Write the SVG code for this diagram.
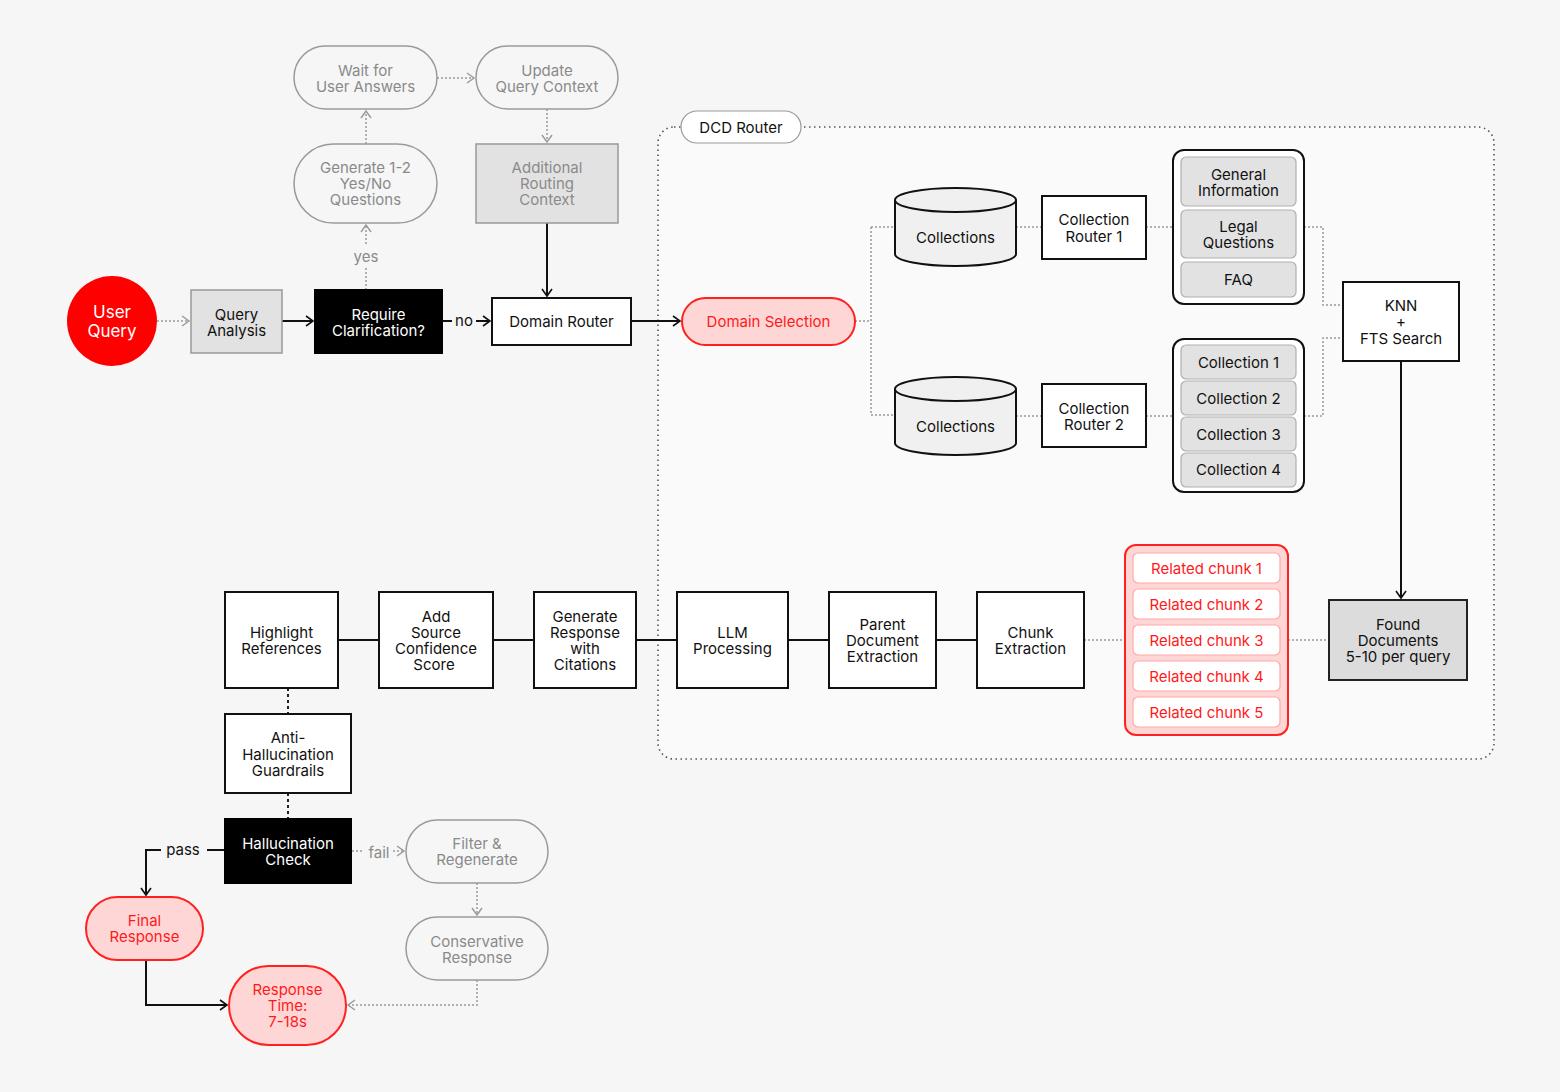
<svg xmlns="http://www.w3.org/2000/svg" width="1560" height="1092" viewBox="0 0 1560 1092">
<style>
text{font-family:Inter,"Noto Sans","Liberation Sans",sans-serif;font-size:15px;fill:#111;text-anchor:middle;dominant-baseline:central}
.g text,text.g{fill:#8a8a8a}
.w{fill:#fff}
.r{fill:#ff1a1a}
.box{fill:#fff;stroke:#111;stroke-width:2}
.blk{fill:#000;stroke:#000;stroke-width:2}
.gbox{fill:#e2e2e2;stroke:#999;stroke-width:1.5}
.gpill{fill:none;stroke:#9a9a9a;stroke-width:1.5}
.rpill{fill:#ffd6d6;stroke:#ff2020;stroke-width:2}
.item{fill:#e2e2e2;stroke:#b0b0b0;stroke-width:1.2}
.ritem{fill:#fff;stroke:#ffa8a8;stroke-width:1.2}
.solid{fill:none;stroke:#111;stroke-width:2}
.dotg{fill:none;stroke:#999;stroke-width:1.5;stroke-dasharray:2 2}
.dashk{fill:none;stroke:#222;stroke-width:2;stroke-dasharray:3 3}
</style>
<defs>
<marker id="ak" markerUnits="userSpaceOnUse" markerWidth="10" markerHeight="12" refX="8" refY="6" orient="auto"><path d="M1,1 L8,6 L1,11" fill="none" stroke="#111" stroke-width="1.6"/></marker>
<marker id="ag" markerUnits="userSpaceOnUse" markerWidth="10" markerHeight="12" refX="8" refY="6" orient="auto"><path d="M1,1 L8,6 L1,11" fill="none" stroke="#999" stroke-width="1.4"/></marker>
</defs>
<rect width="1560" height="1092" fill="#f6f6f6"/>

<g id="dcd-router">
<rect x="658" y="127" width="836" height="632" rx="16" fill="#fafafa" stroke="#555" stroke-width="1.6" stroke-dasharray="1.5 3.5"/>
<rect x="681" y="111" width="120" height="32" rx="16" fill="#fff" stroke="#999" stroke-width="1.2"/>
<text x="741" y="127">DCD Router</text>
</g>

<g id="connectors">
<path class="dotg" d="M157,321 H189" marker-end="url(#ag)"/>
<path class="solid" d="M282,321 H313" marker-end="url(#ak)"/>
<path class="solid" d="M442,321 H452"/>
<text x="464" y="320">no</text>
<path class="solid" d="M476,321 H490" marker-end="url(#ak)"/>
<path class="dotg" d="M366,290 V268"/>
<text class="g" x="366" y="256">yes</text>
<path class="dotg" d="M366,244 V225" marker-end="url(#ag)"/>
<path class="dotg" d="M366,144 V111" marker-end="url(#ag)"/>
<path class="dotg" d="M437,78 H474" marker-end="url(#ag)"/>
<path class="dotg" d="M547,109 V142" marker-end="url(#ag)"/>
<path class="solid" d="M547,223 V296" marker-end="url(#ak)"/>
<path class="solid" d="M631,321 H680" marker-end="url(#ak)"/>
<path class="dotg" d="M855,321 H871 M871,227 V415 M871,227 H895 M871,415 H895"/>
<path class="dotg" d="M1016,227 H1042 M1146,227 H1173 M1016,416 H1042 M1146,416 H1173"/>
<path class="dotg" d="M1304,227 H1323 V305 H1343 M1304,416 H1323 V338 H1343"/>
<path class="solid" d="M1401,361 V598" marker-end="url(#ak)"/>
<path class="dotg" d="M1288,640 H1329 M1084,640 H1125"/>
<path class="solid" d="M338,640 H379 M493,640 H534 M636,640 H677 M788,640 H829 M936,640 H977"/>
<path class="dashk" d="M288,688 V714 M288,793 V819"/>
<path class="solid" d="M225,850 H207"/>
<text x="183" y="849">pass</text>
<path class="solid" d="M161,850 H146 V895" marker-end="url(#ak)"/>
<path class="solid" d="M146,960 V1005 H227" marker-end="url(#ak)"/>
<path class="dotg" d="M352,851 H364"/>
<text class="g" x="379" y="852">fail</text>
<path class="dotg" d="M393,851 H404" marker-end="url(#ag)"/>
<path class="dotg" d="M477,883 V915" marker-end="url(#ag)"/>
<path class="dotg" d="M477,980 V1005 H348" marker-end="url(#ag)"/>
</g>

<g id="user-query">
<circle cx="112" cy="321" r="45" fill="#ff0000"/>
<text class="w" x="112" y="312" style="font-size:17px">User</text>
<text class="w" x="112" y="331" style="font-size:17px">Query</text>
</g>
<g id="query-analysis">
<rect class="gbox" x="191" y="290" width="91" height="63"/>
<text x="236.5" y="314">Query</text><text x="236.5" y="330">Analysis</text>
</g>
<g id="require-clarification">
<rect class="blk" x="315" y="290" width="127" height="63"/>
<text class="w" x="378.5" y="314">Require</text><text class="w" x="378.5" y="330">Clarification?</text>
</g>
<g id="domain-router">
<rect class="box" x="492" y="298" width="139" height="47"/>
<text x="561.5" y="321">Domain Router</text>
</g>
<g id="generate-questions" class="g">
<rect class="gpill" x="294" y="144" width="143" height="79" rx="39.5"/>
<text x="365.5" y="167">Generate 1-2</text><text x="365.5" y="183">Yes/No</text><text x="365.5" y="199">Questions</text>
</g>
<g id="wait-answers" class="g">
<rect class="gpill" x="294" y="46" width="143" height="63" rx="31.5"/>
<text x="365.5" y="70">Wait for</text><text x="365.5" y="86">User Answers</text>
</g>
<g id="update-context" class="g">
<rect class="gpill" x="476" y="46" width="142" height="63" rx="31.5"/>
<text x="547" y="70">Update</text><text x="547" y="86">Query Context</text>
</g>
<g id="additional-routing" class="g">
<rect class="gbox" x="476" y="144" width="142" height="79" fill="#dcdcdc"/>
<text x="547" y="167">Additional</text><text x="547" y="183">Routing</text><text x="547" y="199">Context</text>
</g>
<g id="domain-selection">
<rect class="rpill" x="682" y="298" width="173" height="47" rx="23.5"/>
<text class="r" x="768.5" y="321">Domain Selection</text>
</g>
<g id="collections-1">
<path d="M895,200 V254 A60.5,12 0 0 0 1016,254 V200" fill="#f0f0f0" stroke="#111" stroke-width="2"/>
<ellipse cx="955.5" cy="200" rx="60.5" ry="12" fill="#f0f0f0" stroke="#111" stroke-width="2"/>
<text x="955.5" y="237">Collections</text>
</g>
<g id="collections-2">
<path d="M895,389 V443 A60.5,12 0 0 0 1016,443 V389" fill="#f0f0f0" stroke="#111" stroke-width="2"/>
<ellipse cx="955.5" cy="389" rx="60.5" ry="12" fill="#f0f0f0" stroke="#111" stroke-width="2"/>
<text x="955.5" y="426">Collections</text>
</g>
<g id="collection-router-1">
<rect class="box" x="1042" y="196" width="104" height="63"/>
<text x="1094" y="219">Collection</text><text x="1094" y="236">Router 1</text>
</g>
<g id="collection-router-2">
<rect class="box" x="1042" y="384" width="104" height="63"/>
<text x="1094" y="408">Collection</text><text x="1094" y="424">Router 2</text>
</g>
<g id="domain-group-1">
<rect x="1173" y="150" width="131" height="154" rx="11" fill="#fff" stroke="#111" stroke-width="2"/>
<rect class="item" x="1181" y="157" width="115" height="49" rx="5"/>
<text x="1238.5" y="174">General</text><text x="1238.5" y="190">Information</text>
<rect class="item" x="1181" y="210" width="115" height="48" rx="5"/>
<text x="1238.5" y="226">Legal</text><text x="1238.5" y="242">Questions</text>
<rect class="item" x="1181" y="262" width="115" height="35" rx="5"/>
<text x="1238.5" y="279">FAQ</text>
</g>
<g id="domain-group-2">
<rect x="1173" y="339" width="131" height="153" rx="11" fill="#fff" stroke="#111" stroke-width="2"/>
<rect class="item" x="1181" y="345" width="115" height="34" rx="5"/>
<text x="1238.5" y="362">Collection 1</text>
<rect class="item" x="1181" y="381" width="115" height="34" rx="5"/>
<text x="1238.5" y="398">Collection 2</text>
<rect class="item" x="1181" y="417" width="115" height="34" rx="5"/>
<text x="1238.5" y="434">Collection 3</text>
<rect class="item" x="1181" y="453" width="115" height="34" rx="5"/>
<text x="1238.5" y="469">Collection 4</text>
</g>
<g id="knn-fts">
<rect class="box" x="1343" y="282" width="116" height="79"/>
<text x="1401" y="305">KNN</text><text x="1401" y="321">+</text><text x="1401" y="338">FTS Search</text>
</g>
<g id="found-documents">
<rect x="1329" y="600" width="138" height="80" fill="#dcdcdc" stroke="#222" stroke-width="2"/>
<text x="1398" y="624">Found</text><text x="1398" y="640">Documents</text><text x="1398" y="656">5-10 per query</text>
</g>
<g id="related-chunks">
<rect x="1125" y="545" width="163" height="190" rx="11" fill="#ffd6d6" stroke="#ff2020" stroke-width="2"/>
<rect class="ritem" x="1133" y="553" width="147" height="30" rx="5"/><text class="r" x="1206.5" y="568">Related chunk 1</text>
<rect class="ritem" x="1133" y="589" width="147" height="30" rx="5"/><text class="r" x="1206.5" y="604">Related chunk 2</text>
<rect class="ritem" x="1133" y="625" width="147" height="30" rx="5"/><text class="r" x="1206.5" y="640">Related chunk 3</text>
<rect class="ritem" x="1133" y="661" width="147" height="30" rx="5"/><text class="r" x="1206.5" y="676">Related chunk 4</text>
<rect class="ritem" x="1133" y="697" width="147" height="30" rx="5"/><text class="r" x="1206.5" y="712">Related chunk 5</text>
</g>
<g id="chunk-extraction">
<rect class="box" x="977" y="592" width="107" height="96"/>
<text x="1030.5" y="632">Chunk</text><text x="1030.5" y="648">Extraction</text>
</g>
<g id="parent-document">
<rect class="box" x="829" y="592" width="107" height="96"/>
<text x="882.5" y="624">Parent</text><text x="882.5" y="640">Document</text><text x="882.5" y="656">Extraction</text>
</g>
<g id="llm-processing">
<rect class="box" x="677" y="592" width="111" height="96"/>
<text x="732.5" y="632">LLM</text><text x="732.5" y="648">Processing</text>
</g>
<g id="generate-response">
<rect class="box" x="534" y="592" width="102" height="96"/>
<text x="585" y="616">Generate</text><text x="585" y="632">Response</text><text x="585" y="648">with</text><text x="585" y="664">Citations</text>
</g>
<g id="add-confidence">
<rect class="box" x="379" y="592" width="114" height="96"/>
<text x="436" y="616">Add</text><text x="436" y="632">Source</text><text x="436" y="648">Confidence</text><text x="434" y="664">Score</text>
</g>
<g id="highlight-references">
<rect class="box" x="225" y="592" width="113" height="96"/>
<text x="281.5" y="632">Highlight</text><text x="281.5" y="648">References</text>
</g>
<g id="anti-hallucination">
<rect class="box" x="225" y="714" width="126" height="79"/>
<text x="288" y="737">Anti-</text><text x="288" y="754">Hallucination</text><text x="288" y="770">Guardrails</text>
</g>
<g id="hallucination-check">
<rect class="blk" x="225" y="819" width="126" height="64"/>
<text class="w" x="288" y="843">Hallucination</text><text class="w" x="288" y="859">Check</text>
</g>
<g id="filter-regenerate" class="g">
<rect class="gpill" x="406" y="820" width="142" height="63" rx="31.5"/>
<text x="477" y="843">Filter &amp;</text><text x="477" y="859">Regenerate</text>
</g>
<g id="conservative-response" class="g">
<rect class="gpill" x="406" y="917" width="142" height="63" rx="31.5"/>
<text x="477" y="941">Conservative</text><text x="477" y="957">Response</text>
</g>
<g id="final-response">
<rect class="rpill" x="86" y="897" width="117" height="63" rx="31.5"/>
<text class="r" x="144.5" y="920">Final</text><text class="r" x="144.5" y="936">Response</text>
</g>
<g id="response-time">
<rect class="rpill" x="229" y="966" width="117" height="79" rx="39.5"/>
<text class="r" x="287.5" y="989">Response</text><text class="r" x="287.5" y="1005">Time:</text><text class="r" x="287.5" y="1021">7-18s</text>
</g>
</svg>
